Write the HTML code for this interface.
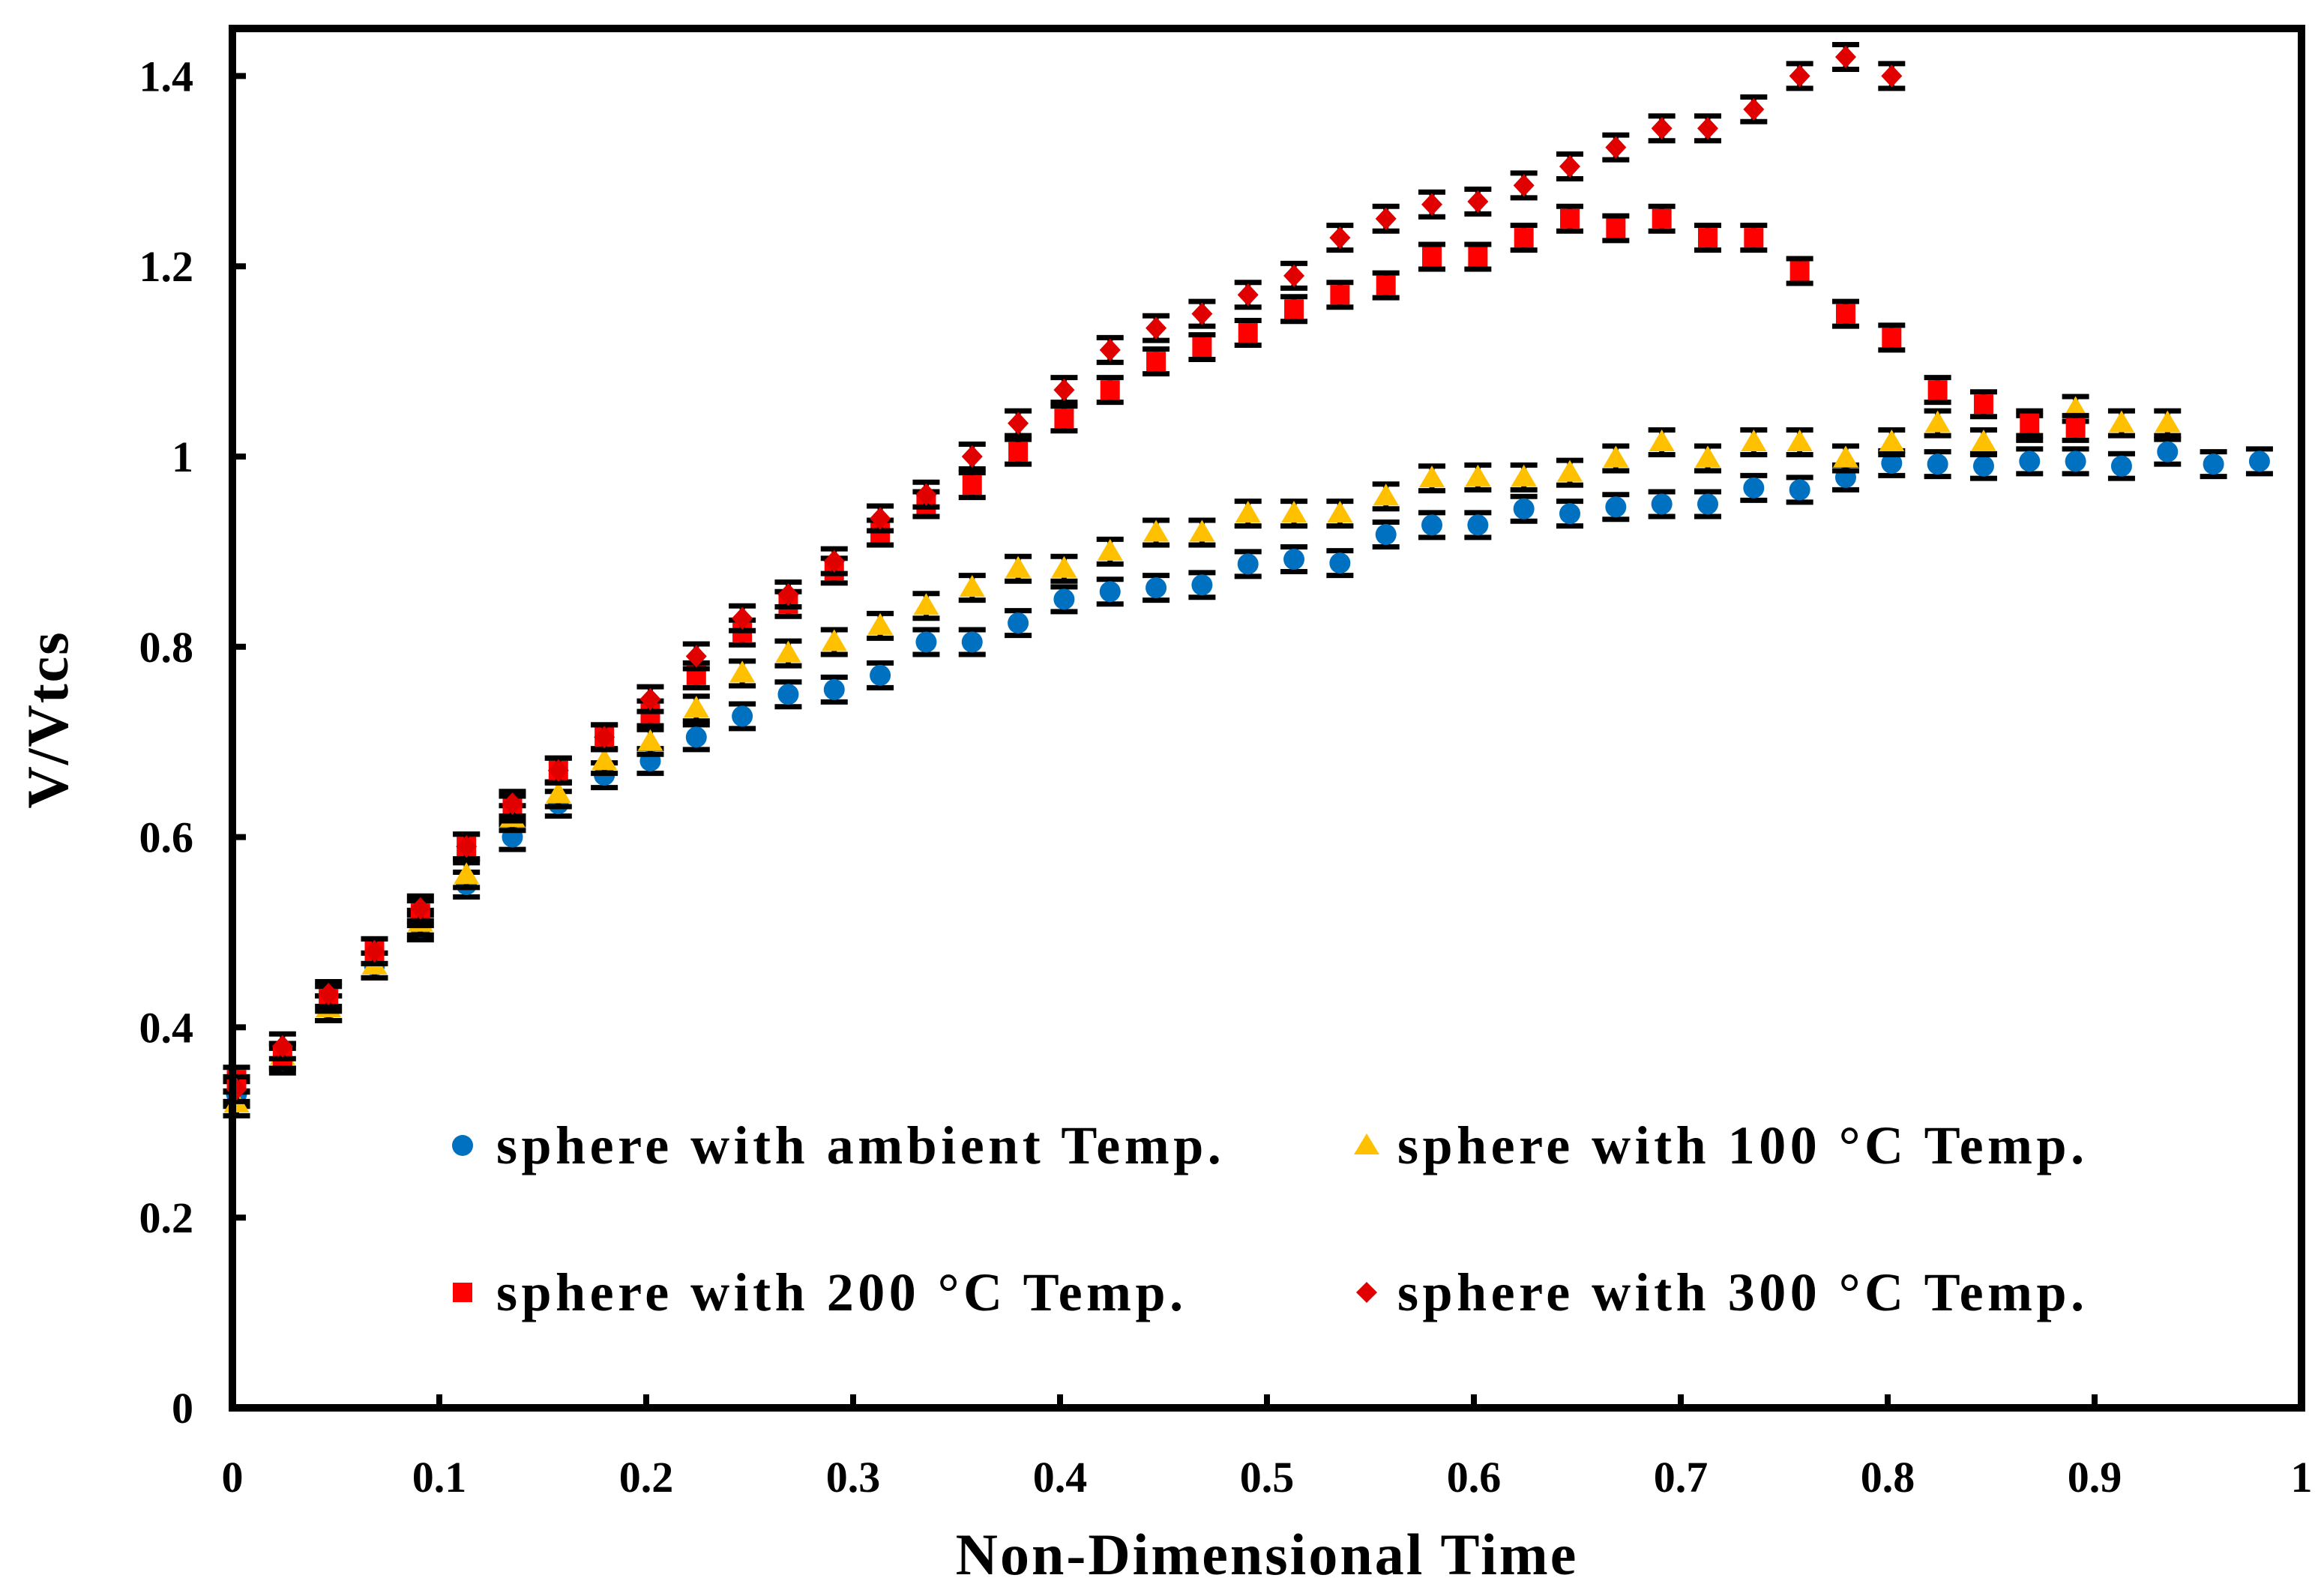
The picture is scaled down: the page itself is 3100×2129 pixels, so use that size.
<!DOCTYPE html>
<html><head><meta charset="utf-8"><style>html,body{margin:0;padding:0;background:#fff}svg{display:block}text{font-family:"Liberation Serif",serif;font-weight:bold;fill:#000}</style></head>
<body>
<svg id="chart" width="3100" height="2129" viewBox="0 0 3100 2129" xmlns="http://www.w3.org/2000/svg">
<g id="marks"></g>
<rect x="310" y="38" width="2760" height="1840" fill="none" stroke="#000" stroke-width="10"/>
<g id="axes"></g>
<text x="1690" y="2100" font-size="78" letter-spacing="3" text-anchor="middle">Non-Dimensional Time</text>
<text x="0" y="0" font-size="78" letter-spacing="2" text-anchor="middle" transform="translate(90,960) rotate(-90)">V/Vtcs</text>
<g>
<circle cx="617" cy="1528" r="14" fill="#0070c0"/>
<text x="662" y="1552" font-size="72" letter-spacing="5.5">sphere with ambient Temp.</text>
<polygon points="1823,1512 1840,1540 1806,1540" fill="#ffc000"/>
<text x="1864" y="1552" font-size="72" letter-spacing="5.5">sphere with 100 °C Temp.</text>
<rect x="604" y="1711" width="26" height="26" fill="#ff0000"/>
<text x="662" y="1748" font-size="72" letter-spacing="5.5">sphere with 200 °C Temp.</text>
<polygon points="1823,1710 1837,1724 1823,1738 1809,1724" fill="#e00000"/>
<text x="1864" y="1748" font-size="72" letter-spacing="5.5">sphere with 300 °C Temp.</text>
</g>
</svg>
<script>
const xTicks=[0,0.1,0.2,0.3,0.4,0.5,0.6,0.7,0.8,0.9,1];
const xTickLabels=["0","0.1","0.2","0.3","0.4","0.5","0.6","0.7","0.8","0.9","1"];
const yTicks=[0,0.2,0.4,0.6,0.8,1,1.2,1.4];
const yTickLabels=["0","0.2","0.4","0.6","0.8","1","1.2","1.4"];
const ambient=[0.33,0.365,0.42,0.465,0.505,0.55,0.6,0.635,0.665,0.68,0.705,0.727,0.75,0.755,0.77,0.805,0.805,0.825,0.85,0.858,0.862,0.865,0.887,0.892,0.888,0.918,0.928,0.928,0.945,0.94,0.947,0.95,0.95,0.967,0.965,0.978,0.993,0.992,0.99,0.995,0.995,0.99,1.005,0.992,0.995];
const temp100=[0.32,0.37,0.42,0.465,0.51,0.56,0.62,0.645,0.68,0.7,0.735,0.772,0.793,0.805,0.822,0.843,0.862,0.882,0.882,0.9,0.92,0.92,0.94,0.94,0.94,0.958,0.977,0.978,0.978,0.983,0.998,1.015,0.998,1.015,1.015,0.998,1.015,1.035,1.015,1.03,1.05,1.035,1.035];
const temp200=[0.345,0.37,0.43,0.48,0.52,0.59,0.63,0.67,0.705,0.73,0.77,0.815,0.845,0.88,0.92,0.95,0.97,1.005,1.04,1.07,1.1,1.115,1.13,1.155,1.17,1.18,1.21,1.21,1.23,1.25,1.24,1.25,1.23,1.23,1.195,1.15,1.125,1.07,1.055,1.035,1.03];
const temp300=[0.335,0.38,0.435,0.48,0.525,0.59,0.635,0.67,0.705,0.745,0.79,0.83,0.855,0.89,0.935,0.96,1.0,1.035,1.07,1.112,1.135,1.15,1.17,1.19,1.23,1.25,1.265,1.268,1.285,1.305,1.325,1.345,1.345,1.365,1.4,1.42,1.4];
const xStart=0.002, xStep=0.02222, errBar=0.013;
const NS="http://www.w3.org/2000/svg";
const X=v=>310+v*2760, Y=v=>1878-v*1269;
function mk(tag,attrs,parent){const e=document.createElementNS(NS,tag);for(const k in attrs)e.setAttribute(k,attrs[k]);parent.appendChild(e);return e;}
const axes=document.getElementById('axes'), marks=document.getElementById('marks');
xTicks.forEach((t,i)=>{
  const l=mk('line',{x1:X(t),x2:X(t),y1:1878,y2:1860,stroke:'#000','stroke-width':8},axes);
  
  
  const tx=mk('text',{x:X(t),y:1990,'font-size':58,'text-anchor':'middle'},axes);tx.textContent=xTickLabels[i];
  
  
});
yTicks.forEach((t,i)=>{
  const l=mk('line',{x1:310,x2:328,y1:Y(t),y2:Y(t),stroke:'#000','stroke-width':8},axes);
  
  
  const tx=mk('text',{x:258,y:Y(t)+20,'font-size':58,'text-anchor':'end'},axes);tx.textContent=yTickLabels[i];
  
  
});
function series(vals,name,draw){
  const g=mk('g',{},marks);
  
  
  vals.forEach((v,i)=>{
    const cx=X(xStart+i*xStep), cy=Y(v), t=Y(v+errBar), b=Y(v-errBar);
    const e=mk('path',{d:`M${cx},${t}V${b}M${cx-18},${t}H${cx+18}M${cx-18},${b}H${cx+18}`,stroke:'#000','stroke-width':7,fill:'none'},g);
    
    
    const m=draw(cx,cy,g);
    
    
  });
}
series(ambient,'ambient',(x,y,g)=>mk('circle',{cx:x,cy:y,r:14,fill:'#0070c0'},g));
series(temp100,'100c',(x,y,g)=>mk('polygon',{points:`${x},${y-17} ${x+17},${y+12} ${x-17},${y+12}`,fill:'#ffc000'},g));
series(temp200,'200c',(x,y,g)=>mk('rect',{x:x-13,y:y-13,width:26,height:26,fill:'#ff0000'},g));
series(temp300,'300c',(x,y,g)=>mk('polygon',{points:`${x},${y-15} ${x+14},${y} ${x},${y+15} ${x-14},${y}`,fill:'#e00000'},g));
</script>
</body></html>
